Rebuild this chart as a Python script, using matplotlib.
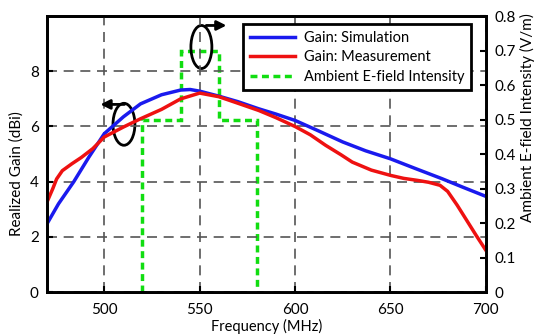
import matplotlib
matplotlib.use("Agg")
import matplotlib.pyplot as plt
from matplotlib.lines import Line2D
from matplotlib.patches import Ellipse

plt.rcParams['font.family'] = ['Lato', 'DejaVu Sans']
plt.rcParams['font.size'] = 10

# Gain: Simulation
sim_freq = [470, 476, 484, 492, 500, 510, 519, 530, 540, 545, 550, 560, 570, 581,
            590, 600, 612, 625, 637, 650, 663, 677, 688, 700]
sim_gain = [2.48, 3.2, 4.0, 4.9, 5.74, 6.35, 6.82, 7.15, 7.32, 7.34, 7.28, 7.1, 6.9, 6.64,
            6.45, 6.22, 5.85, 5.44, 5.12, 4.83, 4.48, 4.11, 3.8, 3.47]

# Gain: Measurement
meas_freq = [470, 473, 475, 478, 483, 488, 494, 500, 510, 519, 530, 540, 550, 560, 571,
             581, 590, 600, 608, 616, 624, 630, 640, 650, 657, 664, 670, 676, 680, 685,
             690, 695, 700]
meas_gain = [3.27, 3.75, 4.1, 4.4, 4.65, 4.88, 5.2, 5.62, 5.98, 6.28, 6.62, 7.0, 7.21, 7.08,
             6.82, 6.58, 6.32, 6.0, 5.7, 5.32, 4.98, 4.71, 4.42, 4.23, 4.12, 4.05, 3.98,
             3.87, 3.65, 3.15, 2.6, 2.05, 1.52]

# Ambient E-field intensity (V/m), band edges in MHz
efield_edges = [520, 540, 560, 580]
efield_levels = [0.5, 0.7, 0.5]

x_ticks = [500, 550, 600, 650, 700]
gain_ticks = [0, 2, 4, 6, 8]
efield_ticks = [0, 0.1, 0.2, 0.3, 0.4, 0.5, 0.6, 0.7, 0.8]
efield_ticklabels = ['0', '0.1', '0.2', '0.3', '0.4', '0.5', '0.6', '0.7', '0.8']

fig = plt.figure(figsize=(5.35, 3.35), dpi=100)
ax = fig.add_axes([0.088, 0.128, 0.82, 0.824])
ax2 = ax.twinx()

ax2.stairs(efield_levels, efield_edges, baseline=0, color='#11dd11',
           linewidth=2.5, linestyle=(0, (2, 1.3)))
ax2.set_ylim(0, 0.8)
ax2.set_yticks(efield_ticks)
ax2.set_yticklabels(efield_ticklabels)
ax2.set_ylabel('Ambient E-field Intensity (V/m)', fontsize=11)
ax2.yaxis.set_label_coords(1.077, 0.634)

ax.set_zorder(ax2.get_zorder() + 1)
ax.patch.set_visible(False)

ax.plot(sim_freq, sim_gain, color='#1a1aee', linewidth=2.5)
ax.plot(meas_freq, meas_gain, color='#ee1111', linewidth=2.5)
ax.set_xlim(470, 700)
ax.set_ylim(0, 10)
ax.set_xticks(x_ticks)
ax.set_yticks(gain_ticks)
ax.set_xlabel('Frequency (MHz)', fontsize=10.5, labelpad=1)
ax.set_ylabel('Realized Gain (dBi)', fontsize=11)
ax.yaxis.set_label_coords(-0.053, 0.431)
ax.grid(True, color='#555555', linestyle=(0, (6, 4)), linewidth=1.2)

for a in (ax, ax2):
    a.tick_params(direction='in', length=4, width=1.5, labelsize=11)
    for s in a.spines.values():
        s.set_linewidth(2)
ax.tick_params(axis='x', pad=8)
ax.tick_params(axis='y', pad=6)
ax2.tick_params(axis='y', pad=6)

# axis hint ellipses with arrows
ax.add_patch(Ellipse((510.3, 6.08), 11.5, 1.52, fill=False, edgecolor='black', linewidth=2))
ax.annotate('', xy=(496.5, 6.8), xytext=(512, 6.8),
            arrowprops=dict(arrowstyle='-|>', color='black', lw=2, mutation_scale=14))
ax.add_patch(Ellipse((550.9, 8.88), 11, 1.56, fill=False, edgecolor='black', linewidth=2))
ax.annotate('', xy=(565.5, 9.66), xytext=(552, 9.66),
            arrowprops=dict(arrowstyle='-|>', color='black', lw=2, mutation_scale=14))

handles = [Line2D([], [], color='#1a1aee', linewidth=2.5),
           Line2D([], [], color='#ee1111', linewidth=2.5),
           Line2D([], [], color='#11dd11', linewidth=2.5, linestyle=(0, (2, 1.3)))]
labels = ['Gain: Simulation', 'Gain: Measurement', 'Ambient E-field Intensity']
leg = ax.legend(handles, labels, loc='upper right', bbox_to_anchor=(0.966, 0.971),
                borderaxespad=0, fancybox=False, framealpha=1, edgecolor='black',
                handlelength=3.1, borderpad=0.45, labelspacing=0.38, handletextpad=0.6,
                fontsize=10.5)
leg.get_frame().set_linewidth(2)

fig.savefig('out.png', dpi=100)
